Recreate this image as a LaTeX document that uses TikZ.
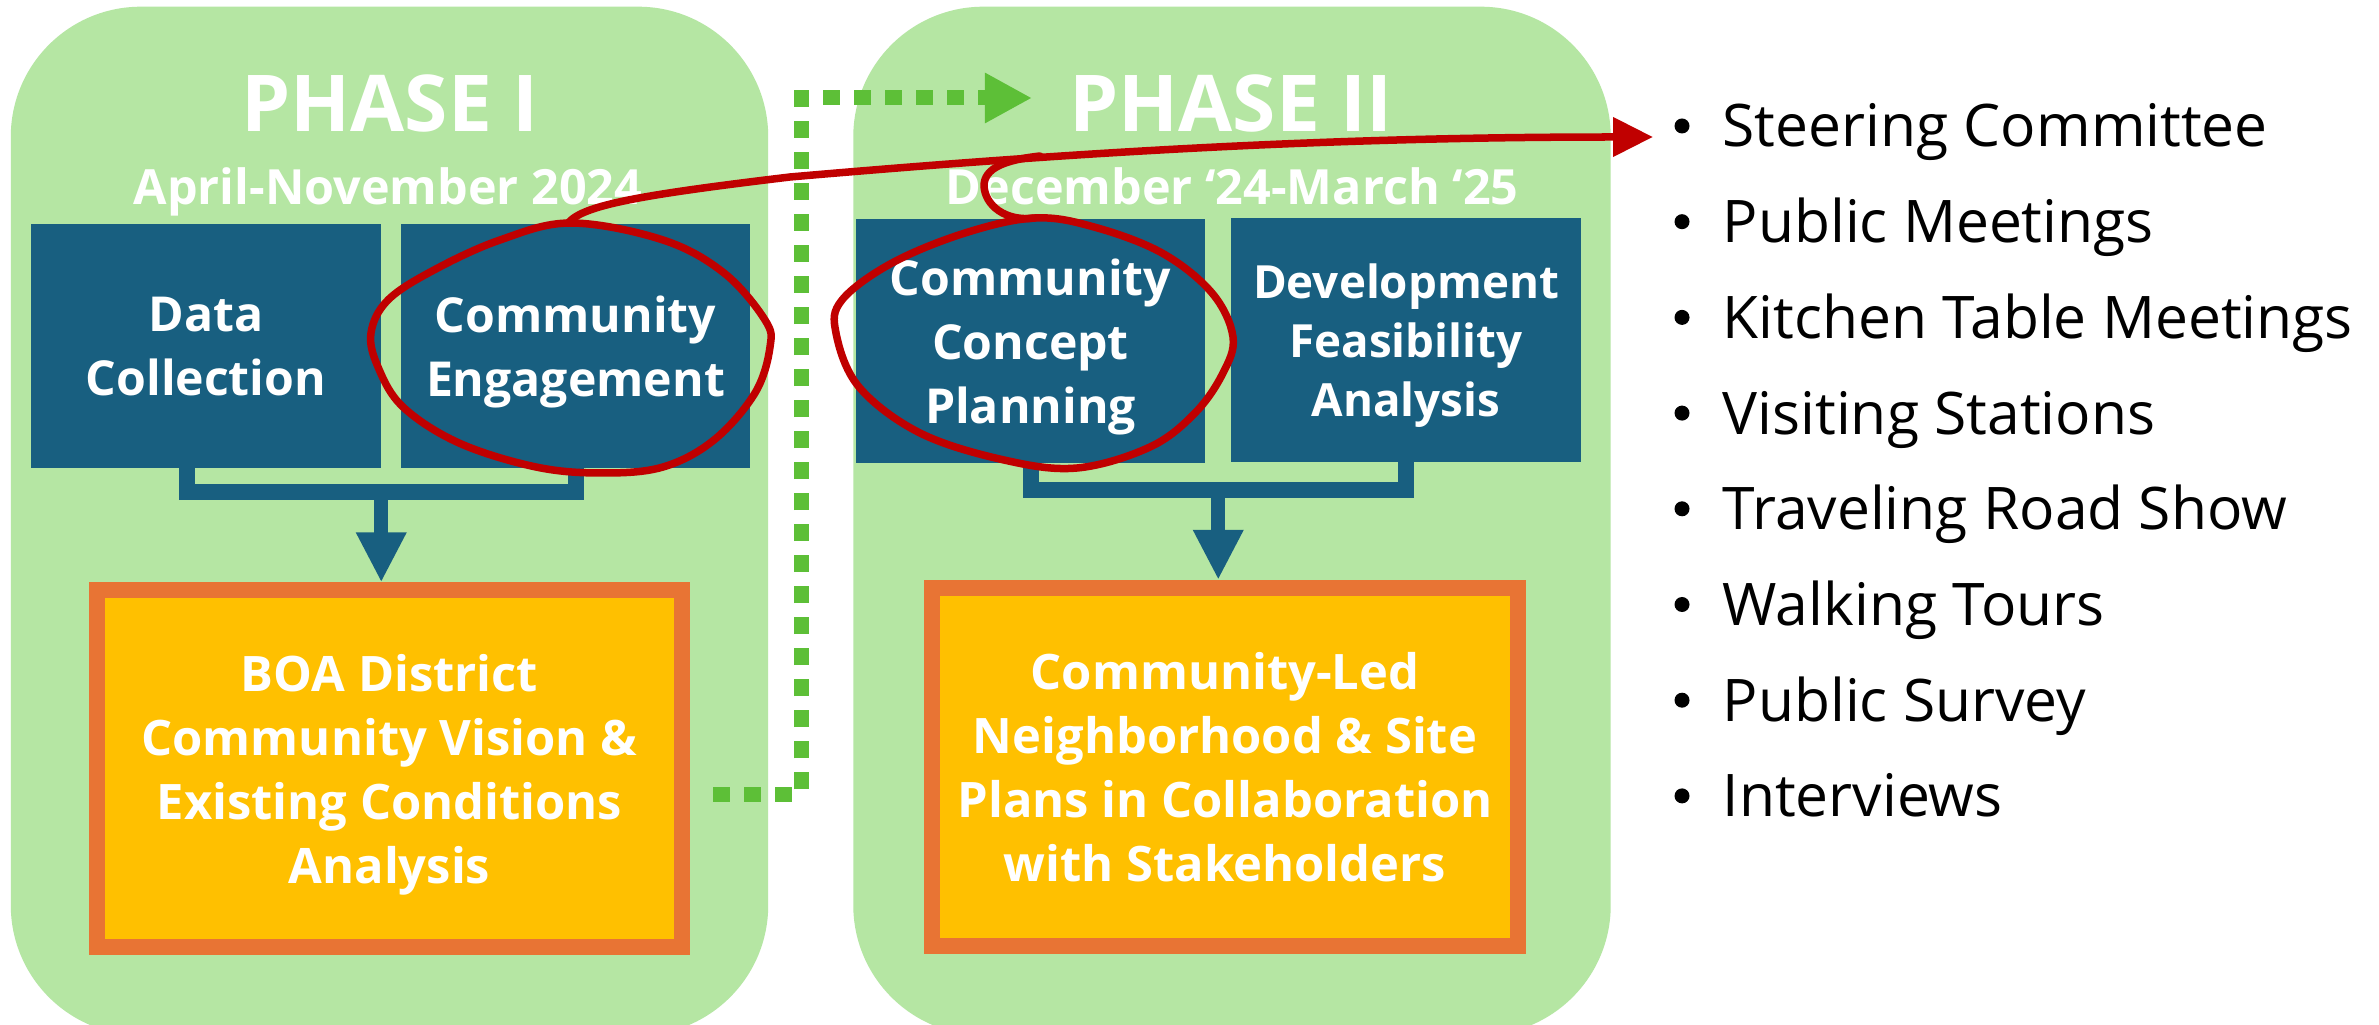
\documentclass[tikz,border=0pt]{standalone}
\usepackage{fontspec}
\setmainfont{Open Sans}
\usetikzlibrary{arrows.meta,calc}

\definecolor{phasegreen}{RGB}{181,230,163}
\definecolor{taskblue}{RGB}{24,95,128}
\definecolor{outorange}{RGB}{232,116,52}
\definecolor{outgold}{RGB}{255,192,0}
\definecolor{markred}{RGB}{192,0,0}
\definecolor{flowgreen}{RGB}{93,191,55}

\tikzset{
  phase/.style={fill=phasegreen, rounded corners=1.3cm, inner sep=0pt,
    minimum width=7.57cm, minimum height=10.28cm},
  phasetitle/.style={text=white, anchor=base, inner sep=0pt,
    font=\fontsize{22.3}{26}\selectfont\bfseries},
  phasedates/.style={text=white, anchor=base, inner sep=0pt,
    font=\fontsize{13.8}{16}\selectfont\bfseries},
  task/.style={fill=taskblue, text=white, align=center, inner sep=0pt,
    text depth=0pt, minimum width=3.49cm, minimum height=2.43cm,
    font=\fontsize{13.7}{18.2}\selectfont\bfseries},
  outcome/.style={fill=outgold, draw=outorange, line width=0.16cm,
    text=white, align=center, inner sep=0pt, text depth=0pt,
    minimum width=5.85cm, minimum height=3.56cm,
    font=\fontsize{13.9}{18.2}\selectfont\bfseries},
  bracket/.style={draw=taskblue, line width=0.16cm},
  flow/.style={draw=taskblue, line width=0.14cm,
    -{Triangle[length=0.5cm,width=0.47cm]}},
  dotflow/.style={draw=flowgreen, line width=0.15cm,
    dash pattern=on 0.17cm off 0.14cm,
    -{Triangle[length=0.47cm,width=0.47cm]}},
  redink/.style={draw=markred, line width=0.075cm, line cap=round, line join=round},
  listitem/.style={anchor=base west, inner sep=0pt,
    font=\fontsize{16.7}{20}\selectfont},
}

\begin{document}
\begin{tikzpicture}[x=0.01cm, y=-0.01cm]
\useasboundingbox (0,0) rectangle (2379,1025);
\clip (0,0) rectangle (2379,1025);
\fill[white] (0,0) rectangle (2379,1025);

% phase panels (their lower edge runs off the page)
\node[phase] (ph1) at (389.5,521) {};
\node[phase] (ph2) at (1232,521) {};

% headings
\node[phasetitle] (t1) at (390,132) {PHASE I};
\node[phasedates] (d1) at (388,205) {April-November 2024};
\node[phasetitle] (t2) at (1231,132) {PHASE II};
\node[phasedates] (d2) at (1232,205) {December ‘24-March ‘25};

% work streams
\node[task] (dc) at (206,346) {Data\\Collection};
\node[task] (ce) at (575.5,346) {Community\\Engagement};
\node[task] (ccp) at (1030.5,341) {Community\\Concept\\Planning};
\node[task, font=\fontsize{13}{16.8}\selectfont\bfseries] (dev) at (1406,340)
  {Development\\Feasibility\\Analysis};

% deliverables
\node[outcome] (boa) at (389.5,768.5)
  {BOA District\\Community Vision \&\\Existing Conditions\\Analysis};
\node[outcome, minimum width=5.86cm, minimum height=3.58cm] (cl) at (1225,767)
  {Community-Led\\Neighborhood \& Site\\Plans in Collaboration\\with Stakeholders};

% brackets joining the work streams
\draw[bracket] ([xshift=-0.19cm]dc.south) -- ++(0,24) -| (ce.south);
\coordinate (j1) at ($([xshift=-0.19cm]dc.south)!0.5!(ce.south)+(0,24)$);
\draw[flow] (j1) -- (j1 |- boa.north);

\draw[bracket] (ccp.south) -- ++(0,27) -| (dev.south);
\coordinate (j2) at ($(ccp.south)!0.5!(dev.south)+(0,27)$);
\draw[flow] (j2) -- (j2 |- cl.north);

% hand-off from phase I to phase II
\coordinate (g0) at ($(boa.east)+(23,26)$);
\coordinate (g1) at (801,98);
\coordinate (g2) at (1032,98);
\draw[dotflow] (g0) -| (g1) -- (g2);

% engagement list
\foreach \t [count=\k] in {Steering Committee, Public Meetings,
    Kitchen Table Meetings, Visiting Stations, Traveling Road Show,
    Walking Tours, Public Survey, Interviews} {
  \node[listitem] (item\k) at (1722,{51.3+95.7*\k}) {\t};
  \fill ([shift={(-40,-21)}]item\k.base west) circle[radius=0.075cm];
}

% red call-outs
\draw[redink] plot[smooth cycle, tension=0.6] coordinates {
  (571,223) (663,240) (724,273) (765,320) (770,347) (755,393) (714,440)
  (663,467) (602,473) (536,467) (459,443) (403,407) (378,367) (371,333)
  (388,300) (434,270) (500,240)};
\draw[redink] plot[smooth cycle, tension=0.6] coordinates {
  (1035,218) (1094,227) (1162,253) (1212,293) (1233,337) (1223,373)
  (1195,413) (1150,447) (1077,468) (1004,460) (920,433) (859,387)
  (836,333) (842,300) (892,263) (965,233)};
\coordinate (e1top) at (569,222);
\coordinate (e2top) at (1035,218);
\coordinate (rt) at ([shift={(-69,-10)}]item1.base west);
\draw[redink, -{Triangle[length=0.4cm,width=0.38cm]}]
  (e1top) .. controls (585,205) and (640,195) .. (790,177)
  .. controls (1100,150) and (1350,137) .. (rt);
\draw[redink] (e2top) .. controls (1005,222) and (985,205) .. (984,186)
  .. controls (984,168) and (1005,160) .. (1040,156);
\end{tikzpicture}
\end{document}
